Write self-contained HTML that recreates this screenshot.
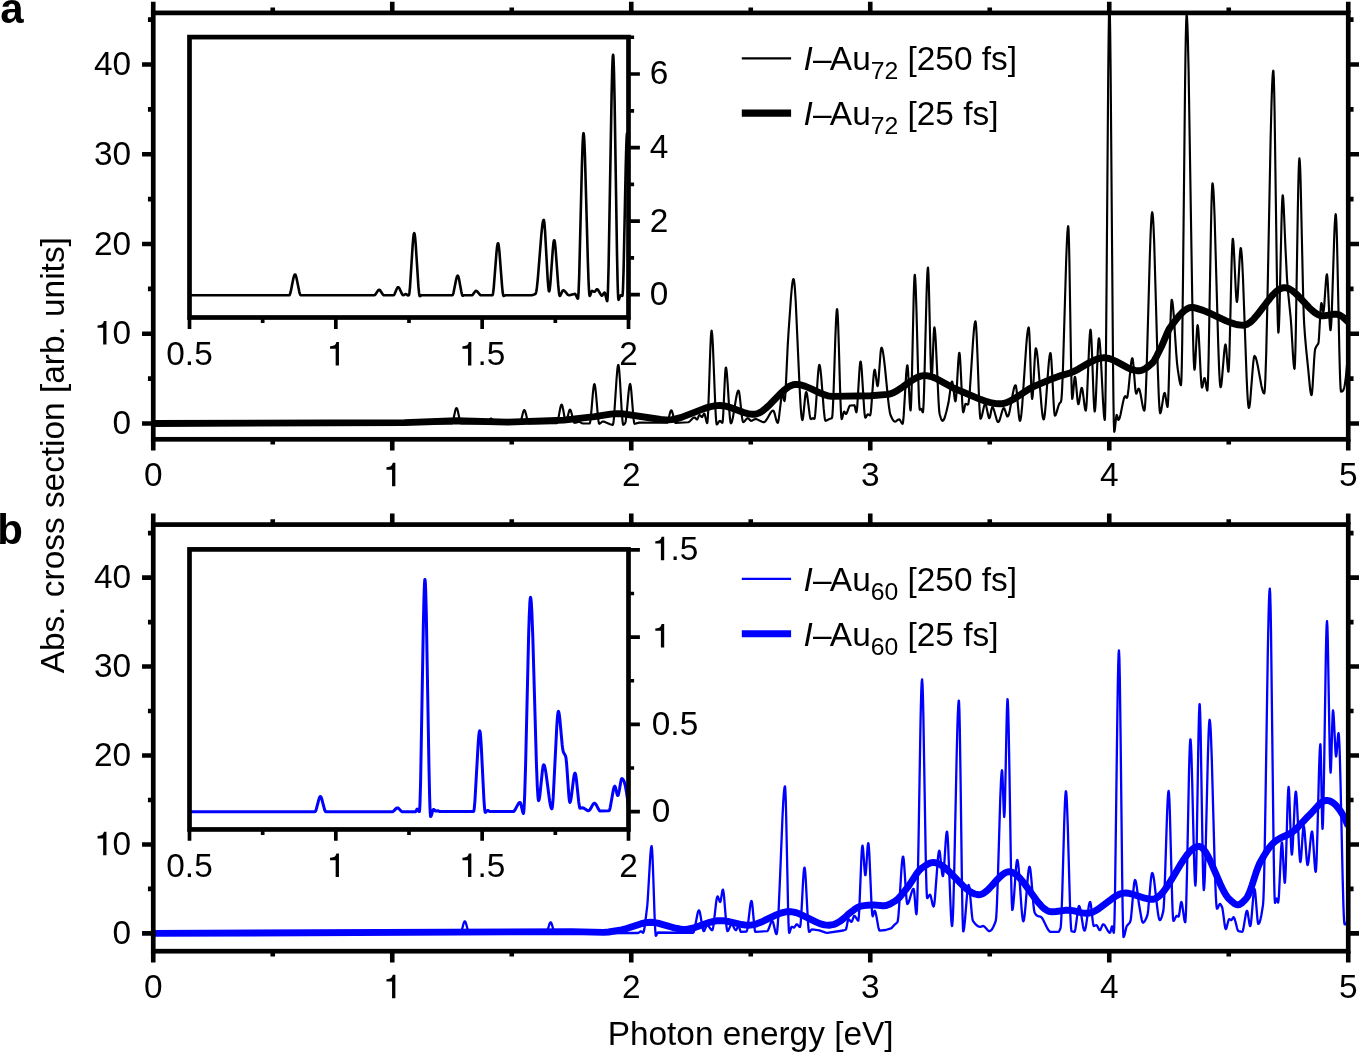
<!DOCTYPE html>
<html><head><meta charset="utf-8"><title>Absorption cross section</title>
<style>html,body{margin:0;padding:0;background:#fff}svg{display:block;will-change:transform}</style></head>
<body>
<svg width="1359" height="1053" viewBox="0 0 1359 1053" style="display:block;font-family:'Liberation Sans', sans-serif;font-size:33.4px" fill="#000">
<rect width="1359" height="1053" fill="#fff"/>
<defs>
<clipPath id="cpa"><rect x="153.25" y="12.9" width="1195.0" height="426.40000000000003"/></clipPath>
<clipPath id="cpb"><rect x="153.25" y="524.6" width="1195.0" height="426.6"/></clipPath>
<clipPath id="cia"><rect x="189.5" y="37.1" width="439.0" height="280.4"/></clipPath>
<clipPath id="cib"><rect x="189.5" y="549.4" width="439.0" height="280.05000000000007"/></clipPath>
</defs>
<g clip-path="url(#cpa)" fill="none" stroke="#000" stroke-linejoin="round">
<path d="M153.2,423.5 354.1,423.5 354.9,423.3 357.7,422.0 358.5,421.8 359.3,421.9 362.1,423.3 363.0,423.5 451.8,423.5 452.1,423.3 452.5,422.6 452.9,421.4 455.3,410.6 455.7,409.2 456.1,408.3 456.5,408.0 456.9,408.3 457.3,409.2 457.7,410.5 459.7,419.7 460.1,421.3 460.5,422.5 460.9,423.3 461.3,423.5 487.0,423.5 487.3,423.4 487.7,423.1 488.5,421.9 489.7,419.8 490.1,419.2 490.5,418.7 491.0,418.5 491.3,418.6 491.7,418.9 492.5,420.1 493.7,422.2 494.1,422.8 494.5,423.3 495.0,423.5 519.7,423.5 520.1,423.2 520.5,422.4 520.9,421.2 522.9,413.0 523.3,411.6 523.7,410.6 524.1,410.1 524.3,410.0 524.5,410.1 524.9,410.6 525.3,411.6 526.1,414.6 527.3,419.7 527.7,421.2 528.1,422.4 528.5,423.2 528.9,423.5 556.9,423.2 557.3,422.6 557.7,421.5 558.5,417.8 560.1,408.9 560.5,407.1 560.9,405.7 561.3,404.8 561.6,404.6 561.7,404.6 562.1,405.2 562.5,406.4 563.3,410.2 564.5,417.0 564.9,418.9 565.3,420.4 565.7,421.3 566.0,421.5 566.1,421.5 566.5,421.0 566.9,420.0 568.9,411.8 569.3,410.6 569.7,409.8 570.0,409.6 570.1,409.6 570.5,410.1 570.9,411.0 571.7,413.8 573.3,420.5 573.7,421.7 574.1,422.5 574.5,422.8 575.7,422.6 578.1,421.9 579.0,421.8 579.7,421.9 582.1,423.3 583.0,423.5 589.6,423.5 589.7,423.4 590.1,422.3 590.5,419.8 591.3,412.1 592.9,393.2 593.3,389.3 593.7,386.3 594.1,384.5 594.4,384.1 594.5,384.2 594.9,385.3 595.3,387.7 596.1,395.2 597.7,413.9 598.1,417.9 598.5,421.0 598.9,423.1 599.3,423.8 599.7,423.7 600.5,423.2 602.1,421.8 602.5,421.6 603.0,421.5 603.7,421.6 610.1,424.3 612.1,424.8 612.8,424.8 612.9,424.7 613.3,423.4 613.7,420.4 614.1,416.2 616.5,379.8 617.3,370.0 617.7,366.8 618.1,365.1 618.3,364.9 618.5,365.2 618.9,367.3 619.3,371.2 620.1,382.7 621.7,410.5 622.1,416.2 622.5,420.8 622.9,423.8 623.3,424.8 623.7,424.7 624.1,424.4 625.2,423.0 625.3,422.8 625.7,421.2 626.1,418.6 626.9,411.0 628.5,393.1 628.9,389.5 629.3,386.6 629.7,384.7 630.1,384.0 630.5,384.9 630.9,387.4 631.3,391.1 633.3,415.9 633.7,419.7 634.1,422.5 634.5,423.8 634.9,423.8 639.3,422.6 667.0,422.8 667.3,422.6 667.7,421.9 668.1,420.7 670.1,412.6 670.5,411.4 670.9,410.6 671.3,410.3 671.7,410.6 672.1,411.5 672.9,414.3 674.1,419.5 674.5,421.0 674.9,422.1 675.3,422.8 675.6,423.0 688.1,422.3 688.9,422.0 690.1,421.0 692.5,418.5 693.3,417.9 694.1,417.5 694.5,417.5 694.9,417.6 696.5,419.3 697.0,419.5 697.3,419.3 697.7,418.6 698.9,415.6 699.3,415.1 699.5,415.0 699.7,415.0 700.1,415.3 701.3,416.6 701.7,416.9 702.0,417.0 702.1,417.0 702.5,416.5 703.7,413.9 704.1,413.5 704.2,413.5 704.5,413.8 704.9,414.9 706.5,421.8 706.9,422.8 707.2,423.0 707.3,422.8 707.7,419.4 708.1,412.6 708.9,391.7 710.1,355.0 710.5,344.7 710.9,336.6 711.3,331.8 711.6,330.7 711.7,330.8 712.1,333.3 712.5,338.5 712.9,345.8 715.3,406.0 715.7,414.1 716.1,420.1 716.5,423.7 716.8,424.5 716.9,424.5 717.3,424.2 717.7,423.7 718.9,421.6 719.3,421.1 719.8,420.8 720.1,420.9 720.5,421.2 721.7,422.5 722.1,422.7 722.4,422.8 722.5,422.6 722.9,419.5 723.3,413.3 724.9,378.0 725.3,371.5 725.7,367.9 725.9,367.5 726.1,367.8 726.5,369.9 726.9,373.5 727.7,384.3 729.3,410.1 729.7,415.5 730.1,419.7 730.5,422.4 730.9,423.3 731.3,423.0 731.7,422.2 732.1,421.0 732.9,417.6 736.1,398.2 736.9,394.2 737.3,392.7 737.7,391.6 738.1,390.8 738.5,390.6 738.9,391.3 739.3,393.2 739.7,395.9 741.7,414.7 742.1,417.9 742.5,420.3 742.9,421.8 743.2,422.1 743.7,422.0 744.1,421.7 746.5,418.9 746.9,418.6 747.3,418.3 747.8,418.2 748.1,418.3 748.5,418.5 750.1,420.2 750.5,420.5 750.9,420.8 751.3,420.8 752.1,420.6 754.5,419.2 755.4,419.0 756.5,419.1 762.1,421.8 763.3,422.1 764.1,422.1 764.5,422.0 764.9,421.7 765.7,420.9 766.9,419.2 770.5,412.9 771.3,411.8 772.1,411.0 772.5,410.8 773.2,410.6 773.3,410.6 773.7,411.1 774.1,411.9 774.9,414.6 776.1,419.4 776.5,420.7 776.9,421.8 777.3,422.6 777.7,422.8 778.1,422.2 778.5,420.5 778.9,418.1 780.9,401.2 781.3,398.3 781.7,396.0 782.1,394.5 782.5,394.0 782.9,394.8 784.1,400.4 784.5,401.0 784.9,399.3 785.3,395.1 785.7,388.9 787.7,345.9 788.5,332.7 790.9,298.5 791.7,289.0 792.1,285.3 792.5,282.3 792.9,280.2 793.3,279.1 793.5,279.0 793.7,279.3 794.1,281.0 794.5,284.2 794.9,288.8 795.7,301.1 799.7,389.6 800.5,404.0 800.9,409.7 801.3,414.4 801.7,417.7 802.1,419.6 802.4,420.0 802.5,419.9 802.9,418.5 803.3,415.8 804.9,399.3 805.3,395.7 805.7,393.2 806.1,392.0 806.2,392.0 806.5,392.4 806.9,393.8 807.3,396.0 809.7,414.9 810.1,417.2 810.5,418.6 810.9,419.1 811.3,419.0 812.5,418.3 813.0,418.2 813.3,418.3 814.1,419.0 814.3,419.0 814.5,418.7 814.9,416.7 815.3,413.2 816.1,403.1 817.7,378.5 818.1,373.3 818.5,369.1 818.9,366.2 819.3,364.9 819.4,364.9 819.7,365.4 820.1,367.1 820.5,369.8 821.3,377.8 823.7,408.7 824.5,416.4 824.9,419.0 825.3,420.5 825.6,420.8 826.1,420.7 828.9,419.3 830.9,418.6 832.0,418.0 832.1,417.7 832.5,414.3 832.9,407.9 833.7,388.2 835.3,338.9 836.1,319.2 836.5,312.8 836.9,309.4 837.1,309.1 837.3,309.9 837.7,314.8 838.1,323.3 838.9,347.7 840.1,389.6 840.5,401.5 840.9,411.0 841.3,417.1 841.7,419.1 842.1,418.5 842.5,417.1 843.3,413.6 843.7,412.2 844.1,411.5 844.2,411.5 844.5,411.8 845.3,413.4 845.7,413.9 845.9,414.0 846.1,413.9 846.5,413.5 846.9,412.8 848.9,407.4 849.3,406.5 849.7,405.8 850.2,405.5 854.4,405.2 854.5,405.3 854.9,406.5 855.7,410.5 856.1,412.0 856.4,412.3 856.5,412.1 856.9,410.0 857.3,405.8 859.3,372.5 859.7,367.0 860.1,363.2 860.5,361.5 860.6,361.5 860.9,362.3 861.3,365.1 861.7,369.5 864.1,408.1 864.5,412.9 864.9,416.2 865.3,417.7 865.4,417.7 865.7,417.5 866.1,417.0 867.3,414.7 867.7,414.3 868.1,414.3 869.7,415.3 870.1,415.4 870.5,414.2 870.9,411.4 871.3,407.2 873.3,379.3 873.7,374.8 874.1,371.6 874.5,369.9 874.7,369.7 874.9,370.0 875.3,371.7 876.9,383.9 877.3,385.7 877.6,386.1 877.7,386.0 878.1,384.1 878.5,380.5 880.5,353.5 880.9,349.8 881.3,347.9 881.5,347.7 881.7,347.8 882.1,348.5 882.5,349.8 882.9,351.7 883.7,356.8 884.9,367.0 888.1,399.3 888.9,406.1 889.7,411.5 890.1,413.5 890.5,415.0 892.1,418.5 892.9,419.9 893.7,420.9 894.1,421.3 894.5,421.5 895.0,421.6 895.3,421.6 896.1,421.2 898.1,419.7 898.9,419.4 899.3,419.4 899.7,419.7 900.1,420.2 901.7,423.1 902.1,423.6 902.6,423.8 902.9,422.9 903.3,420.0 903.7,415.4 906.1,375.2 906.5,370.2 906.9,366.8 907.3,365.3 907.4,365.3 907.7,366.8 908.1,371.5 909.7,402.4 910.1,407.8 910.5,410.3 910.6,410.3 910.9,407.7 911.3,399.0 911.7,385.6 913.7,296.2 914.1,283.7 914.5,276.3 914.8,274.9 914.9,275.2 915.3,279.2 915.7,287.1 916.5,311.5 918.1,372.9 918.9,397.4 919.3,405.4 919.7,409.4 919.9,409.8 920.1,409.7 920.9,409.0 921.2,408.9 921.3,409.0 921.7,409.7 922.5,411.9 922.9,412.3 922.9,412.3 923.3,409.2 923.7,401.7 924.1,390.6 926.5,296.1 926.9,283.6 927.3,274.1 927.7,268.6 928.0,267.6 928.1,268.1 928.5,274.5 928.9,286.6 930.5,355.6 930.9,368.9 931.3,376.9 931.6,378.5 931.7,378.1 932.1,373.4 932.5,364.9 933.7,334.4 934.1,328.6 934.4,327.4 934.5,327.6 934.9,329.7 935.3,334.1 935.7,340.2 938.5,400.4 938.9,406.9 939.3,411.8 939.8,414.8 940.9,418.3 941.3,419.3 941.7,420.0 942.1,420.5 942.5,420.8 942.9,420.7 943.3,420.4 943.7,419.9 944.1,419.1 944.9,417.0 946.5,411.2 948.5,402.6 949.3,397.2 950.6,387.7 951.0,385.0 951.4,382.9 951.8,381.7 952.0,381.5 952.2,381.6 952.6,382.9 953.0,385.3 954.6,398.2 955.0,400.4 955.4,401.3 955.8,400.2 956.2,396.6 956.6,391.1 958.2,362.9 958.6,357.4 959.0,353.8 959.3,352.7 959.4,352.7 959.8,354.9 960.2,360.0 961.0,375.7 962.2,401.7 962.6,407.9 963.0,411.6 963.2,412.3 963.4,412.2 963.8,411.2 965.0,405.4 965.4,404.2 965.6,403.9 966.2,404.0 967.4,404.6 967.8,404.7 968.2,404.2 968.6,402.4 969.0,399.5 969.8,391.0 973.0,341.7 973.8,331.4 974.2,327.3 974.6,324.2 975.0,322.1 975.4,321.3 975.8,322.6 976.2,327.0 976.6,334.0 977.4,353.2 979.0,397.3 979.4,406.2 979.8,413.1 980.2,417.4 980.5,418.7 981.0,418.3 981.4,417.4 982.2,414.5 983.8,407.2 984.2,405.8 984.6,404.7 985.0,404.0 985.2,403.9 985.4,404.0 985.8,404.6 986.2,405.9 988.2,415.5 988.6,417.0 989.0,417.9 989.3,418.2 989.8,417.5 990.2,416.0 991.4,409.8 991.8,408.2 992.2,407.3 992.3,407.2 992.6,407.3 993.0,407.7 993.4,408.5 994.2,410.7 996.6,419.3 997.0,420.4 997.4,421.3 997.8,421.9 998.2,422.1 998.6,421.9 999.0,421.4 999.4,420.6 1000.2,418.2 1002.2,411.0 1002.6,409.9 1003.0,409.0 1003.4,408.3 1003.8,408.1 1004.2,408.3 1004.6,409.0 1005.4,411.3 1006.6,415.1 1007.0,416.0 1007.4,416.5 1007.5,416.5 1007.8,416.4 1008.2,415.9 1008.6,415.0 1009.0,413.8 1009.8,410.4 1013.0,392.7 1013.8,389.0 1014.2,387.5 1014.6,386.4 1015.0,385.6 1015.4,385.2 1015.5,385.2 1015.8,385.6 1016.2,387.4 1016.6,390.4 1018.6,412.9 1019.0,416.6 1019.4,419.3 1019.8,420.7 1019.9,420.8 1020.2,420.6 1020.6,419.3 1021.0,417.1 1021.4,413.9 1022.2,405.5 1026.2,346.3 1027.0,336.9 1027.4,333.2 1027.8,330.4 1028.2,328.4 1028.6,327.5 1028.7,327.4 1029.0,328.6 1029.4,334.4 1029.8,343.9 1031.0,380.1 1031.4,390.1 1031.8,396.8 1032.1,398.8 1032.2,398.8 1032.6,396.6 1033.0,391.9 1034.6,361.5 1035.0,354.9 1035.4,350.3 1035.8,348.3 1036.2,348.7 1036.6,350.2 1037.0,352.6 1037.8,359.5 1041.4,405.2 1042.2,413.0 1042.6,416.0 1043.0,418.0 1043.4,419.2 1043.6,419.4 1043.8,419.3 1044.2,418.1 1044.6,415.8 1045.0,412.5 1045.8,403.6 1048.2,369.9 1049.0,360.7 1049.4,357.3 1049.8,354.7 1050.2,353.3 1050.4,353.1 1050.6,353.3 1051.0,355.8 1051.4,360.5 1052.2,374.4 1053.4,398.8 1053.8,405.7 1054.2,411.2 1054.6,414.7 1054.9,415.7 1055.4,415.4 1055.8,414.7 1056.6,412.4 1058.2,406.6 1059.0,404.4 1059.4,403.6 1060.6,402.3 1061.0,401.5 1061.4,399.5 1061.8,394.7 1062.2,387.5 1063.0,367.3 1066.2,259.4 1067.0,239.5 1067.4,232.5 1067.8,228.0 1068.2,226.2 1068.6,230.2 1069.0,242.7 1069.4,261.6 1071.0,359.6 1071.4,379.4 1071.8,393.1 1072.2,398.8 1072.6,397.7 1073.0,394.5 1074.2,380.8 1074.6,377.7 1074.9,376.8 1075.0,376.8 1075.4,378.2 1075.8,381.2 1077.4,399.1 1077.8,402.4 1078.2,404.1 1078.3,404.2 1078.6,403.9 1079.0,402.6 1079.4,400.4 1080.6,392.1 1081.0,389.8 1081.4,388.2 1081.7,387.8 1081.8,387.8 1082.2,388.7 1082.6,390.5 1083.4,396.4 1084.6,406.1 1085.0,408.6 1085.4,410.2 1085.7,410.6 1085.8,410.6 1086.2,408.5 1086.6,403.6 1087.0,396.7 1089.0,349.2 1089.4,341.1 1089.8,334.8 1090.2,330.8 1090.5,329.7 1090.6,329.8 1091.0,332.5 1091.4,338.7 1092.2,358.2 1093.4,392.0 1093.8,401.2 1094.2,407.9 1094.6,411.3 1094.7,411.5 1095.0,410.6 1095.4,406.5 1095.8,399.7 1097.8,351.3 1098.2,344.1 1098.6,339.5 1098.9,338.2 1099.0,338.2 1099.4,339.7 1099.8,343.0 1100.2,347.9 1101.0,361.3 1103.0,401.2 1103.8,413.3 1104.2,417.3 1104.6,419.5 1104.8,419.9 1105.0,418.2 1105.4,402.3 1105.8,372.1 1106.6,282.3 1108.2,76.5 1108.6,38.8 1109.0,13.2 1109.4,3.0 1109.8,10.3 1110.2,32.6 1110.6,67.0 1113.0,361.8 1113.4,397.8 1113.8,422.1 1114.2,431.8 1114.6,430.8 1115.0,428.0 1115.8,420.2 1116.2,416.9 1116.6,415.0 1116.7,414.9 1117.0,415.2 1117.4,416.6 1117.8,418.4 1118.2,419.7 1118.4,419.9 1118.6,419.9 1119.0,419.4 1119.4,418.6 1119.8,417.4 1120.6,414.2 1123.0,402.2 1123.8,398.9 1124.2,397.7 1124.6,396.8 1125.0,396.3 1125.2,396.2 1125.4,396.3 1125.8,396.7 1126.2,397.3 1126.6,397.8 1126.8,397.9 1127.0,397.8 1127.4,396.7 1127.8,394.6 1128.6,388.2 1130.6,367.5 1131.0,364.0 1131.4,361.2 1131.8,359.2 1132.2,358.3 1132.3,358.2 1132.6,358.7 1133.0,361.0 1133.4,364.8 1135.0,385.4 1135.4,389.6 1135.8,392.5 1136.2,393.7 1136.6,393.4 1137.0,392.5 1137.8,390.2 1138.2,389.2 1138.6,388.6 1138.7,388.6 1139.0,388.8 1139.4,389.5 1139.8,390.7 1140.6,394.3 1142.6,405.6 1143.0,407.5 1143.4,409.0 1143.8,410.1 1144.2,410.6 1144.3,410.6 1144.6,409.9 1145.0,406.5 1145.4,400.6 1145.8,392.4 1146.6,370.7 1149.8,256.8 1150.6,233.9 1151.0,225.0 1151.4,218.2 1151.8,213.9 1152.2,212.2 1152.6,213.5 1153.0,217.5 1153.4,223.9 1154.2,242.9 1157.8,369.0 1158.6,391.7 1159.0,400.5 1159.4,407.2 1159.8,411.6 1160.2,413.2 1160.6,412.8 1161.0,411.5 1161.4,409.6 1163.4,396.7 1163.8,394.7 1164.2,393.3 1164.6,392.8 1165.0,393.5 1165.4,395.3 1166.6,403.5 1167.0,405.7 1167.4,406.8 1167.5,406.9 1167.8,405.6 1168.2,399.4 1168.6,389.4 1170.6,318.7 1171.0,308.2 1171.4,301.6 1171.7,299.8 1171.8,299.8 1172.2,300.8 1172.6,303.2 1173.0,306.6 1173.8,316.1 1176.2,352.8 1177.0,362.8 1177.8,369.5 1179.4,380.1 1179.8,382.1 1180.2,383.7 1180.6,384.8 1181.0,385.2 1181.4,380.3 1181.8,365.7 1182.2,342.9 1183.0,279.1 1185.0,90.0 1185.4,60.0 1185.8,36.4 1186.2,20.8 1186.6,14.9 1187.0,17.3 1187.4,24.6 1187.8,36.3 1188.6,70.6 1192.2,295.9 1193.0,335.4 1193.4,350.3 1193.8,361.4 1194.2,368.0 1194.5,369.7 1194.6,369.6 1195.0,366.8 1195.4,361.0 1196.6,336.5 1197.0,329.8 1197.4,325.8 1197.6,325.2 1197.8,325.5 1198.2,328.2 1198.6,333.1 1199.4,347.6 1200.6,372.3 1201.0,379.1 1201.4,384.2 1201.8,387.2 1202.0,387.6 1202.2,387.5 1202.6,386.3 1203.8,379.9 1204.2,378.4 1204.5,378.0 1204.6,378.0 1205.0,379.0 1205.4,380.9 1206.6,388.5 1207.0,390.1 1207.3,390.5 1207.4,390.3 1207.8,385.5 1208.2,374.6 1208.6,358.9 1211.0,225.9 1211.4,207.9 1211.8,194.0 1212.2,185.5 1212.5,183.3 1212.6,183.4 1213.0,185.4 1213.4,190.0 1213.8,197.0 1214.6,216.8 1218.2,343.6 1219.0,366.1 1219.4,374.8 1219.8,381.4 1220.2,385.6 1220.6,387.2 1221.0,386.5 1221.4,384.3 1221.8,380.9 1224.2,352.0 1224.6,348.3 1225.0,345.7 1225.4,344.5 1225.5,344.4 1225.8,345.1 1226.2,348.2 1227.4,364.0 1227.8,368.5 1228.2,371.3 1228.4,371.7 1228.6,371.0 1229.0,365.3 1229.4,354.7 1230.2,323.8 1231.4,271.2 1231.8,256.7 1232.2,245.9 1232.6,239.7 1232.8,238.8 1233.0,239.2 1233.4,242.3 1233.8,248.0 1235.8,290.5 1236.2,296.9 1236.6,300.9 1236.9,302.0 1237.0,301.9 1237.4,299.6 1237.8,294.6 1239.8,255.9 1240.2,250.8 1240.6,248.2 1240.7,248.1 1241.0,248.7 1241.4,251.3 1241.8,255.8 1242.2,262.0 1243.0,278.5 1246.6,377.0 1247.4,393.7 1247.8,400.0 1248.2,404.6 1248.6,407.3 1248.9,408.0 1249.0,408.0 1249.4,406.9 1249.8,404.5 1250.2,401.0 1253.0,365.3 1253.4,361.3 1253.8,358.3 1254.2,356.5 1254.5,356.0 1255.0,356.3 1255.4,356.9 1255.8,357.8 1256.6,360.5 1257.8,366.0 1261.4,385.8 1262.2,389.2 1263.0,391.8 1263.4,392.7 1263.8,393.2 1264.2,393.4 1264.6,391.7 1265.0,386.5 1265.4,378.3 1266.2,353.9 1267.4,302.2 1270.6,139.5 1271.4,107.4 1271.8,94.4 1272.2,83.9 1272.6,76.3 1273.0,71.8 1273.3,70.7 1273.4,70.9 1273.8,77.5 1274.2,91.9 1274.6,112.5 1277.0,283.7 1277.4,305.9 1277.8,322.3 1278.2,331.3 1278.4,332.6 1278.6,331.8 1279.0,325.5 1279.4,314.1 1281.4,225.7 1281.8,211.1 1282.2,200.6 1282.6,195.6 1282.7,195.3 1283.0,196.4 1283.4,201.2 1283.8,208.7 1285.4,246.8 1287.0,278.7 1287.8,289.4 1290.7,318.0 1291.4,327.8 1293.0,355.4 1293.4,361.0 1293.8,365.4 1294.2,368.1 1294.5,368.8 1294.6,368.6 1295.0,362.8 1295.4,350.4 1295.8,332.5 1297.8,211.3 1298.2,190.3 1298.6,173.5 1299.0,162.4 1299.4,158.3 1299.8,161.1 1300.2,168.9 1300.6,181.0 1303.0,289.0 1303.4,304.3 1303.8,316.4 1304.2,324.5 1305.0,336.1 1306.2,349.6 1308.2,369.2 1309.8,386.2 1310.2,389.6 1310.6,392.3 1311.0,394.2 1311.4,395.1 1311.5,395.1 1311.8,394.3 1312.2,391.2 1312.6,386.1 1314.2,359.0 1314.6,353.6 1315.0,350.0 1315.2,349.0 1315.8,347.5 1317.0,345.4 1317.8,344.4 1318.3,343.5 1318.6,341.9 1319.0,337.3 1320.6,309.4 1321.0,304.8 1321.4,303.0 1321.8,304.0 1322.6,309.2 1323.0,311.4 1323.3,312.0 1323.4,311.9 1323.8,310.0 1324.2,306.1 1325.8,282.7 1326.2,278.0 1326.6,275.1 1326.9,274.3 1327.0,274.4 1327.4,277.2 1327.8,283.0 1329.4,317.7 1329.8,324.6 1330.2,329.1 1330.5,330.2 1330.6,330.1 1331.0,327.2 1331.4,321.0 1331.8,312.1 1334.2,237.6 1334.6,227.6 1335.0,220.0 1335.4,215.3 1335.7,214.2 1335.8,214.4 1336.2,218.6 1336.6,227.8 1337.0,240.9 1339.4,352.8 1339.8,368.4 1340.2,380.7 1340.6,388.7 1341.0,391.6 1341.8,391.5 1342.2,391.4 1342.6,391.1 1343.0,390.6 1343.4,389.9 1343.8,388.9 1344.2,387.5 1344.6,385.8 1345.4,381.0 1346.2,374.0 1347.0,364.6 1347.8,352.3 1348.2,345.0" stroke-width="2.15"/>
<path d="M153.2,423.5 404.4,422.6 456.5,420.8 507.5,422.1 563.6,420.1 594.6,416.6 610.6,414.1 616.6,413.6 621.6,413.7 660.7,419.5 665.7,419.9 668.7,419.9 671.7,419.6 675.7,418.9 680.7,417.6 704.7,408.4 709.7,406.9 713.7,406.0 716.7,405.6 719.8,405.5 722.7,405.7 725.7,406.2 729.7,407.3 743.7,412.5 747.7,413.6 750.7,414.1 752.7,414.3 754.7,414.2 755.7,414.1 756.7,413.9 758.7,413.1 760.7,412.1 762.7,410.8 765.7,408.4 769.7,404.7 780.7,393.3 783.8,390.5 786.8,388.1 788.8,386.7 790.8,385.7 792.8,384.9 793.8,384.6 794.8,384.5 796.8,384.4 798.8,384.6 801.8,385.2 804.8,386.1 810.8,388.6 820.8,393.3 824.8,394.9 827.8,395.8 829.8,396.1 831.8,396.4 870.8,395.8 887.8,394.4 889.8,394.0 891.8,393.4 893.8,392.5 896.8,390.9 902.8,386.9 910.9,381.1 914.9,378.6 917.9,377.1 919.9,376.4 921.9,375.9 923.9,375.6 925.9,375.6 927.9,375.9 929.9,376.3 932.9,377.2 936.9,378.9 953.9,388.3 980.9,399.6 986.9,401.7 991.9,403.0 995.9,403.6 998.9,403.8 1000.9,403.8 1002.9,403.5 1004.9,403.1 1006.9,402.4 1009.9,401.1 1013.9,399.0 1028.9,389.1 1032.9,386.9 1053.0,378.4 1061.0,375.6 1070.0,373.0 1073.0,371.8 1078.0,369.3 1090.0,362.3 1094.0,360.3 1097.0,359.1 1099.0,358.5 1101.0,358.1 1103.0,357.8 1105.0,357.8 1107.0,358.1 1109.0,358.5 1112.0,359.6 1116.0,361.4 1127.0,367.4 1130.0,368.8 1133.0,369.9 1135.0,370.4 1137.0,370.7 1139.0,370.8 1140.0,370.7 1141.0,370.5 1142.0,370.2 1144.0,369.3 1146.0,368.1 1149.0,365.9 1152.2,363.2 1153.0,362.3 1154.0,361.0 1155.0,359.4 1157.0,355.6 1162.1,345.2 1167.1,333.3 1168.1,331.1 1169.1,329.2 1170.1,327.6 1176.1,319.5 1179.1,315.9 1181.1,313.7 1183.1,311.7 1185.1,310.1 1187.1,308.8 1188.1,308.3 1189.1,307.9 1190.1,307.6 1191.1,307.5 1192.1,307.4 1193.1,307.5 1195.1,307.9 1203.1,310.4 1210.1,313.3 1226.1,320.9 1231.1,322.9 1235.1,324.1 1238.1,324.8 1241.1,325.1 1243.1,325.2 1244.1,325.1 1245.1,324.9 1246.1,324.6 1247.1,324.2 1248.1,323.6 1250.1,322.3 1252.1,320.6 1254.1,318.6 1257.1,315.1 1270.1,298.1 1273.1,294.6 1275.1,292.6 1277.1,290.8 1279.1,289.4 1280.1,288.9 1281.1,288.4 1282.1,288.0 1283.1,287.8 1284.5,287.7 1286.2,287.9 1287.2,288.1 1288.2,288.4 1290.2,289.4 1292.2,290.6 1294.2,292.2 1297.2,294.9 1309.2,307.7 1312.2,310.5 1314.2,312.2 1316.2,313.6 1318.2,314.7 1319.2,315.1 1320.2,315.4 1321.2,315.7 1323.2,315.8 1325.2,315.6 1333.2,314.3 1335.7,314.1 1337.2,314.3 1338.2,314.5 1339.2,314.9 1340.2,315.4 1342.2,316.6 1344.2,318.2 1348.2,322.0" stroke-width="6.9"/>
</g>
<g stroke="#000" fill="none">
<rect x="153.25" y="12.9" width="1195.0" height="426.40000000000003" stroke-width="4.7"/>
<path d="M153.25,12.9v-11.2M153.25,439.3v11.2M272.75,12.9v-5.3M272.75,439.3v5.3M392.25,12.9v-11.2M392.25,439.3v11.2M511.75,12.9v-5.3M511.75,439.3v5.3M631.25,12.9v-11.2M631.25,439.3v11.2M750.75,12.9v-5.3M750.75,439.3v5.3M870.25,12.9v-11.2M870.25,439.3v11.2M989.75,12.9v-5.3M989.75,439.3v5.3M1109.25,12.9v-11.2M1109.25,439.3v11.2M1228.75,12.9v-5.3M1228.75,439.3v5.3M1348.25,12.9v-11.2M1348.25,439.3v11.2M153.25,423.50h-11.2M1348.25,423.50h11.2M153.25,378.62h-5.3M1348.25,378.62h5.3M153.25,333.75h-11.2M1348.25,333.75h11.2M153.25,288.88h-5.3M1348.25,288.88h5.3M153.25,244.00h-11.2M1348.25,244.00h11.2M153.25,199.12h-5.3M1348.25,199.12h5.3M153.25,154.25h-11.2M1348.25,154.25h11.2M153.25,109.38h-5.3M1348.25,109.38h5.3M153.25,64.50h-11.2M1348.25,64.50h11.2M153.25,19.62h-5.3M1348.25,19.62h5.3" stroke-width="4.6"/>
</g>
<text x="131.2" y="434.2" text-anchor="end">0</text>
<path transform="translate(94.06,344.45)" d="M12.4,0V-23.45H9.8C9.5,-21.5 8.6,-20.3 7.2,-19.8C6.2,-19.4 5,-19.15 3.5,-19.05V-16.65H9.1V0Z"/>
<text x="112.6" y="344.4">0</text>
<text x="131.2" y="254.7" text-anchor="end">20</text>
<text x="131.2" y="164.9" text-anchor="end">30</text>
<text x="131.2" y="75.2" text-anchor="end">40</text>
<text x="153.2" y="486.3" text-anchor="middle">0</text>
<path transform="translate(382.96,486.30)" d="M12.4,0V-23.45H9.8C9.5,-21.5 8.6,-20.3 7.2,-19.8C6.2,-19.4 5,-19.15 3.5,-19.05V-16.65H9.1V0Z"/>
<text x="631.2" y="486.3" text-anchor="middle">2</text>
<text x="870.2" y="486.3" text-anchor="middle">3</text>
<text x="1109.2" y="486.3" text-anchor="middle">4</text>
<text x="1348.2" y="486.3" text-anchor="middle">5</text>
<rect x="189.5" y="37.1" width="439.0" height="280.4" fill="#fff"/>
<g clip-path="url(#cia)" fill="none" stroke="#000" stroke-linejoin="round">
<path d="M189.5,295.2 289.2,295.2 289.4,295.2 289.7,294.8 290.0,294.2 290.6,292.2 293.3,278.8 293.9,276.4 294.2,275.5 294.5,274.9 294.8,274.5 295.1,274.5 295.4,274.7 295.7,275.3 296.3,277.1 299.3,291.8 299.9,293.9 300.2,294.6 300.5,295.1 300.8,295.2 374.3,295.2 374.6,295.1 375.2,294.7 377.9,290.6 378.5,290.0 378.8,289.8 379.1,289.8 379.4,289.8 380.0,290.2 382.7,294.3 383.3,294.9 383.6,295.1 393.5,295.2 393.8,295.1 394.1,294.8 394.7,293.8 396.8,288.8 397.4,287.8 397.7,287.4 398.0,287.2 398.3,287.2 398.6,287.3 398.9,287.6 399.5,288.5 401.9,293.9 402.5,294.8 402.8,295.1 403.2,295.2 403.7,295.1 405.5,294.1 405.9,294.1 406.1,294.1 406.7,294.5 407.6,295.3 408.0,295.4 408.8,295.2 409.1,294.6 409.4,292.9 410.0,287.1 412.7,244.7 413.3,237.6 413.6,235.2 413.9,233.6 414.2,233.1 414.5,233.6 414.8,235.1 415.1,237.4 415.7,244.2 418.4,286.4 419.0,292.7 419.3,294.8 419.6,296.0 419.8,296.2 420.2,296.1 421.1,295.4 421.5,295.2 452.3,295.2 452.6,295.1 452.9,294.6 453.5,292.8 456.2,279.3 456.8,277.1 457.1,276.3 457.4,275.8 457.7,275.6 458.0,275.9 458.3,276.4 458.9,278.5 461.3,291.6 461.9,294.1 462.2,295.0 462.5,295.5 462.8,295.8 463.1,295.7 463.7,295.3 471.8,295.2 472.1,295.2 472.7,294.7 475.1,291.4 475.7,290.9 476.0,290.9 476.3,290.9 476.9,291.2 479.9,294.7 480.5,295.1 481.1,295.2 492.4,295.2 492.5,295.2 492.8,294.5 493.1,293.0 493.7,288.1 496.4,253.5 497.0,247.5 497.3,245.4 497.6,243.9 497.9,243.2 498.0,243.2 498.2,243.3 498.5,244.3 498.8,246.1 499.4,251.4 502.1,286.6 502.7,292.3 503.0,294.3 503.3,295.5 503.6,295.9 504.2,295.8 505.1,295.3 531.8,295.2 534.2,294.5 535.5,293.9 535.7,293.6 536.0,292.8 536.3,291.5 536.9,287.6 537.8,279.0 541.4,233.8 542.3,225.5 542.9,221.8 543.2,220.6 543.5,220.0 543.7,219.8 543.8,219.9 544.1,221.0 544.4,223.1 545.0,230.3 547.7,279.5 548.3,287.2 548.6,289.7 548.9,291.2 549.1,291.4 549.2,291.4 549.5,290.6 549.8,288.8 550.4,283.1 552.8,249.6 553.4,243.5 553.7,241.5 554.0,240.4 554.2,240.2 554.3,240.2 554.6,241.0 554.9,242.5 555.5,247.8 558.2,284.9 558.8,291.2 559.1,293.6 559.4,295.1 559.7,295.9 559.8,295.9 560.0,295.9 560.3,295.6 560.9,294.5 562.4,291.0 562.7,290.6 563.0,290.3 563.3,290.3 563.9,290.5 564.8,291.2 567.5,294.4 568.1,294.9 568.7,295.2 570.2,295.1 574.4,294.0 575.0,293.9 575.3,294.1 575.6,294.5 577.1,297.8 577.4,298.3 577.7,298.6 577.9,298.6 578.0,298.5 578.3,296.2 578.6,291.5 579.2,276.0 581.9,166.0 582.5,147.1 582.8,140.3 583.1,135.6 583.4,133.3 583.5,133.2 583.7,133.6 584.0,136.2 584.3,140.6 584.9,154.3 587.9,262.8 588.5,280.0 588.8,286.7 589.1,291.7 589.4,294.8 589.7,295.9 590.0,295.7 590.3,295.1 591.5,291.5 591.8,291.0 592.1,290.9 594.2,291.7 594.5,291.8 594.8,291.7 595.4,291.0 596.3,289.7 596.6,289.4 597.0,289.2 597.5,289.4 598.1,290.0 600.8,294.7 601.4,295.4 601.7,295.6 602.0,295.6 602.3,295.5 602.6,295.2 603.8,293.2 604.1,292.8 604.4,292.6 604.6,292.6 604.7,292.6 605.0,293.1 605.3,294.1 606.5,299.5 606.8,300.5 607.1,301.0 607.2,301.1 607.4,300.2 607.7,296.0 608.0,288.7 608.6,266.0 611.6,94.4 612.2,70.2 612.5,61.9 612.8,56.6 613.1,54.8 613.4,56.9 613.7,63.2 614.0,72.9 614.6,101.0 617.0,253.6 617.6,281.7 617.9,291.4 618.2,297.7 618.5,299.9 618.8,299.6 619.1,299.0 620.0,296.4 620.3,295.7 620.6,295.3 620.9,295.3 622.1,295.9 622.4,295.9 622.7,294.0 623.0,288.7 623.6,269.5 625.7,168.0 626.3,145.8 626.6,138.4 626.9,134.1 627.1,133.2 627.2,133.3 627.5,134.3 627.8,136.4 628.1,139.8 628.7,150.0 629.3,165.1 630.2,197.0 631.4,257.3 632.0,295.2" stroke-width="2.6"/>
</g>
<g stroke="#000" fill="none">
<rect x="189.5" y="37.1" width="439.0" height="280.4" stroke-width="4.7"/>
<path d="M189.50,317.5v11.4M262.67,317.5v5.6M335.83,317.5v11.4M409.00,317.5v5.6M482.17,317.5v11.4M555.33,317.5v5.6M628.50,317.5v11.4M628.5,294.70h11.4M628.5,221.14h11.4M628.5,147.58h11.4M628.5,74.02h11.4M628.5,257.92h5.6M628.5,184.36h5.6M628.5,110.80h5.6M628.5,37.24h5.6" stroke-width="3.7"/>
</g>
<text x="649.8" y="305.1">0</text>
<text x="649.8" y="231.5">2</text>
<text x="649.8" y="158.0">4</text>
<text x="649.8" y="84.4">6</text>
<text x="189.5" y="365.4" text-anchor="middle">0.5</text>
<path transform="translate(326.55,365.40)" d="M12.4,0V-23.45H9.8C9.5,-21.5 8.6,-20.3 7.2,-19.8C6.2,-19.4 5,-19.15 3.5,-19.05V-16.65H9.1V0Z"/>
<path transform="translate(458.95,365.40)" d="M12.4,0V-23.45H9.8C9.5,-21.5 8.6,-20.3 7.2,-19.8C6.2,-19.4 5,-19.15 3.5,-19.05V-16.65H9.1V0Z"/>
<text x="477.5" y="365.4">.5</text>
<text x="628.5" y="365.4" text-anchor="middle">2</text>
<g clip-path="url(#cpb)" fill="none" stroke="#0000ff" stroke-linejoin="round">
<path d="M153.2,933.4 460.3,933.4 460.5,933.3 460.9,932.8 461.3,931.9 462.1,929.2 463.3,924.5 463.7,923.1 464.1,922.1 464.5,921.5 464.8,921.3 464.9,921.3 465.3,921.7 465.7,922.5 466.5,925.1 468.1,931.2 468.5,932.4 468.9,933.1 469.3,933.4 506.1,933.4 506.5,933.3 507.3,932.9 508.9,931.7 509.3,931.6 509.7,931.5 510.1,931.6 510.9,931.9 512.5,933.1 512.9,933.3 513.7,933.4 546.1,933.4 546.5,933.0 546.9,932.3 547.7,930.0 549.3,924.5 549.7,923.4 550.1,922.7 550.5,922.3 550.6,922.3 550.9,922.4 551.3,923.0 551.7,923.9 553.7,930.6 554.1,931.8 554.5,932.7 554.9,933.3 555.3,933.4 638.1,933.0 638.5,932.9 640.5,931.5 640.9,931.3 641.3,931.3 641.7,931.6 642.5,932.5 643.0,932.8 643.3,932.6 643.7,931.6 644.1,930.1 644.9,925.4 647.3,905.4 647.7,900.4 650.1,859.0 650.5,853.4 650.9,849.2 651.3,846.7 651.6,846.1 651.7,846.3 652.1,849.6 652.5,856.5 653.3,877.5 654.5,913.8 654.9,923.8 655.3,931.2 655.7,935.3 655.9,935.8 656.1,935.7 656.5,935.1 657.3,933.3 657.7,932.7 658.0,932.5 693.0,932.8 693.3,932.6 693.7,931.9 694.1,930.8 694.9,927.4 697.3,914.7 697.7,913.0 698.1,911.7 698.5,910.8 698.9,910.4 699.0,910.4 699.3,910.7 699.7,911.7 700.1,913.2 702.5,927.5 702.9,929.3 703.3,930.5 703.7,931.1 703.8,931.1 704.1,931.0 704.5,930.4 706.1,926.6 706.5,925.8 706.9,925.3 707.3,925.2 707.7,925.4 708.1,925.6 708.9,926.6 710.9,929.4 711.3,929.8 711.7,930.1 712.2,930.2 712.5,929.9 712.9,928.6 713.3,926.4 714.1,920.4 716.1,902.6 716.5,899.9 716.9,897.9 717.3,896.7 717.6,896.4 717.7,896.4 718.1,897.0 719.3,900.5 719.7,901.5 720.1,902.0 720.2,902.0 720.5,901.5 720.9,899.8 722.1,892.1 722.5,890.3 722.9,889.6 723.3,890.6 723.7,893.1 724.1,896.8 726.1,922.2 726.5,926.3 726.9,929.3 727.3,930.9 727.5,931.1 727.7,931.0 728.1,930.7 728.5,930.1 730.5,925.6 730.9,924.9 731.3,924.5 731.7,924.3 732.1,924.5 732.5,924.9 733.3,926.3 734.5,928.7 734.9,929.4 735.3,929.9 735.7,930.2 735.9,930.2 736.1,930.1 736.5,929.6 737.7,926.9 738.1,926.2 738.5,926.0 738.9,926.5 739.3,927.5 740.1,930.2 740.5,931.3 740.9,931.9 746.5,931.5 746.9,930.8 747.3,929.2 747.7,926.8 750.1,906.6 750.5,904.0 750.9,902.1 751.3,901.1 751.5,901.0 751.7,901.3 752.1,903.1 752.5,906.3 754.1,924.2 754.5,927.9 754.9,930.6 755.3,931.9 767.3,931.1 767.7,930.7 768.1,930.1 768.9,928.3 770.9,922.7 771.3,921.8 771.7,921.2 772.1,920.9 772.3,920.9 772.5,921.0 772.9,921.7 773.3,922.9 775.3,931.6 775.7,932.9 776.1,933.8 776.5,934.1 776.9,933.0 777.3,930.2 777.7,925.7 778.5,912.9 780.1,876.3 782.5,816.6 783.3,801.3 783.7,795.3 784.1,790.7 784.5,787.7 784.9,786.4 785.0,786.4 785.3,789.0 785.7,798.1 786.1,812.5 788.1,909.1 788.5,922.8 788.9,931.1 789.2,932.8 789.3,932.8 789.7,932.2 790.9,928.4 791.3,927.3 791.7,926.8 792.1,926.8 793.7,927.5 794.1,927.5 794.5,927.2 796.1,924.8 796.5,924.4 796.9,924.3 797.3,924.5 798.1,925.3 798.9,926.3 799.3,926.7 799.7,926.9 800.0,927.0 800.1,926.9 800.5,924.7 800.9,920.4 801.7,907.4 802.9,884.2 803.3,877.5 803.7,872.2 804.1,868.7 804.5,867.6 804.9,869.1 805.3,872.9 805.7,878.5 807.7,917.0 808.1,923.5 808.5,928.4 808.9,931.3 809.2,931.9 809.7,931.7 811.3,929.8 811.7,929.5 812.1,929.4 819.3,930.3 825.7,932.6 827.3,932.8 843.3,930.5 845.3,929.7 845.9,929.4 846.1,929.0 846.5,927.6 847.7,921.2 848.1,919.7 848.5,919.2 848.9,919.3 849.3,919.7 850.5,921.2 850.9,921.6 851.3,921.8 851.5,921.8 851.7,921.7 852.1,921.1 853.7,916.6 854.1,915.9 854.4,915.8 854.5,915.8 854.9,916.0 855.3,916.5 857.3,919.9 857.7,920.3 858.1,920.6 858.3,920.6 858.5,919.9 858.9,915.9 859.3,909.1 861.3,859.6 861.7,852.1 862.1,847.2 862.5,845.6 862.9,847.4 863.3,851.6 864.5,868.9 864.9,873.2 865.3,875.2 865.4,875.2 865.7,874.0 866.1,870.0 867.3,851.3 867.7,846.2 868.1,843.4 868.3,843.1 868.5,843.7 868.9,847.3 869.3,853.4 871.3,899.6 871.7,907.3 872.1,913.0 872.5,915.9 872.7,916.2 872.9,916.0 873.3,914.9 874.1,911.8 874.5,910.9 874.7,910.8 874.9,910.9 875.3,911.7 875.7,912.9 876.5,916.7 878.1,925.8 878.5,927.7 878.9,929.2 879.3,930.2 879.8,930.7 885.7,930.0 890.9,928.4 891.7,927.9 895.0,924.3 896.5,923.1 897.5,922.0 897.7,921.3 898.1,918.8 898.5,915.0 899.3,904.1 901.3,871.3 901.7,865.9 902.1,861.5 902.5,858.3 902.9,856.7 903.1,856.6 903.3,857.0 903.7,859.5 904.1,863.6 906.1,894.2 906.5,899.1 906.9,902.5 907.3,904.0 907.7,903.9 908.1,903.4 908.5,902.6 909.3,900.5 911.7,892.1 912.5,890.0 912.9,889.3 913.3,888.9 913.6,888.8 913.7,889.0 914.1,891.2 914.5,895.1 915.7,909.9 916.1,913.2 916.5,914.2 916.5,914.2 916.9,910.0 917.3,899.7 917.7,884.5 918.5,843.0 920.5,723.5 920.9,705.1 921.3,690.9 921.7,682.0 922.1,679.3 922.1,679.4 922.5,684.0 922.9,695.4 923.3,712.1 925.7,854.9 926.1,874.0 926.5,888.3 926.9,896.5 927.2,898.1 927.3,898.1 927.7,897.8 929.3,895.2 929.7,894.8 930.0,894.7 930.1,894.8 930.5,895.4 930.9,896.7 932.5,904.1 932.9,905.5 933.3,906.3 933.6,906.5 933.7,906.4 934.1,905.1 934.5,902.4 934.9,898.6 937.7,860.9 938.1,856.6 938.5,853.4 938.9,851.3 939.3,850.7 939.7,851.8 940.1,854.3 941.7,870.0 942.1,873.2 942.5,875.4 942.9,876.1 942.9,876.1 943.3,874.6 943.7,871.2 944.5,860.3 945.7,841.5 946.1,836.5 946.5,833.1 946.9,831.6 947.0,831.6 947.3,832.9 947.7,837.3 948.1,844.3 950.6,906.8 951.0,915.3 951.4,921.6 951.8,925.3 952.0,926.0 952.2,925.7 952.6,921.8 953.0,914.0 953.4,902.9 954.2,872.6 956.6,758.3 957.4,726.9 957.8,715.0 958.2,706.4 958.6,701.5 958.8,700.6 959.0,701.4 959.4,710.6 959.8,728.3 960.6,781.2 961.8,872.8 962.2,898.3 962.6,917.8 963.0,929.3 963.2,931.4 963.4,931.3 963.8,930.0 964.2,927.6 965.0,919.9 967.0,895.3 967.4,891.3 967.8,888.1 968.2,885.9 968.6,885.0 969.0,885.6 969.4,887.7 969.8,891.0 971.8,913.6 972.2,917.2 972.6,919.8 973.0,921.0 975.0,923.6 976.6,925.2 977.8,926.0 979.0,926.6 980.2,926.8 981.0,926.7 982.6,926.1 983.0,926.0 983.4,926.0 983.8,926.2 984.6,926.8 987.8,930.3 988.6,930.9 989.0,931.1 989.4,931.1 989.8,931.0 990.6,930.7 991.4,930.0 992.2,928.9 993.4,926.8 995.0,923.0 995.8,920.7 996.2,917.5 996.6,911.4 997.0,902.9 997.8,880.5 1000.2,800.3 1001.0,780.9 1001.4,774.5 1001.8,770.9 1002.0,770.3 1002.2,771.0 1002.6,777.8 1003.8,812.1 1004.2,817.0 1004.6,813.2 1005.0,801.3 1006.6,722.6 1007.0,707.7 1007.4,699.8 1007.5,699.2 1007.8,701.0 1008.2,710.0 1008.6,725.4 1009.4,769.4 1011.0,869.7 1011.4,888.7 1011.8,902.4 1012.2,909.4 1012.3,909.9 1012.6,909.5 1013.0,907.4 1013.4,903.9 1014.2,893.8 1015.8,870.4 1016.2,865.8 1016.6,862.3 1017.0,860.4 1017.2,860.0 1017.4,860.1 1017.8,861.4 1018.2,864.1 1018.6,867.8 1019.4,877.6 1021.4,906.6 1022.2,915.7 1022.6,918.8 1023.0,920.7 1023.3,921.3 1023.4,921.3 1023.8,920.4 1024.2,918.4 1024.6,915.5 1025.4,907.3 1027.8,877.3 1028.2,873.3 1028.6,870.2 1029.0,868.0 1029.4,866.9 1029.5,866.8 1029.8,867.1 1030.2,868.7 1030.6,871.5 1031.4,879.7 1033.4,904.3 1033.8,908.0 1034.2,910.8 1034.6,912.5 1035.4,913.9 1036.2,915.0 1037.0,915.7 1038.2,916.1 1040.2,916.6 1041.0,917.0 1041.8,917.7 1043.0,919.5 1047.4,928.4 1048.6,930.3 1049.4,931.2 1049.8,931.6 1050.2,931.8 1058.3,931.9 1058.6,931.8 1059.0,931.5 1059.4,930.8 1060.2,929.0 1060.6,927.8 1061.0,924.0 1061.4,916.8 1062.2,894.7 1064.2,823.5 1064.6,811.5 1065.0,801.8 1065.4,794.9 1065.8,791.5 1065.9,791.3 1066.2,792.2 1066.6,796.7 1067.0,804.5 1067.8,827.3 1069.8,898.8 1070.2,910.7 1070.6,920.4 1071.0,927.3 1071.4,930.8 1071.5,931.1 1073.0,931.7 1074.4,931.9 1074.6,931.8 1075.0,930.8 1075.4,929.0 1076.2,923.4 1077.8,910.6 1078.2,908.2 1078.6,906.6 1079.0,906.0 1079.4,906.3 1079.8,907.3 1080.2,908.9 1081.0,913.2 1083.0,926.0 1083.4,928.0 1083.8,929.5 1084.2,930.4 1084.5,930.7 1084.6,930.7 1085.0,930.1 1085.4,928.8 1085.8,927.0 1086.6,921.9 1088.6,907.3 1089.0,905.0 1089.4,903.3 1089.8,902.3 1090.1,902.0 1090.2,902.0 1090.6,903.1 1091.0,905.3 1092.6,919.8 1093.0,922.9 1093.4,925.1 1093.8,926.0 1094.6,925.8 1095.8,925.3 1096.4,925.2 1096.6,925.2 1097.0,925.6 1097.4,926.2 1099.0,929.4 1099.4,930.0 1099.8,930.2 1100.2,930.0 1100.6,929.4 1102.2,925.6 1102.6,924.8 1103.0,924.4 1103.2,924.3 1103.8,924.5 1104.2,924.8 1105.0,925.8 1108.2,931.4 1109.0,932.4 1109.4,932.6 1109.9,932.8 1110.2,932.5 1110.6,931.4 1111.4,928.0 1111.8,926.7 1112.1,926.3 1112.2,926.3 1112.6,927.5 1113.4,931.8 1113.8,932.8 1114.2,928.5 1114.6,915.4 1115.0,895.0 1117.4,711.4 1117.8,685.9 1118.2,666.1 1118.6,653.9 1118.9,650.5 1119.0,650.7 1119.4,658.9 1119.8,677.4 1120.6,736.5 1122.2,879.1 1122.6,906.7 1123.0,926.5 1123.4,936.3 1123.5,937.0 1123.8,936.8 1124.2,936.0 1124.6,934.7 1126.2,927.8 1126.6,926.5 1127.0,925.7 1127.8,924.7 1129.4,923.1 1129.8,922.6 1130.2,921.8 1130.6,920.4 1131.0,917.8 1131.8,909.8 1133.4,890.4 1133.8,886.3 1134.2,883.0 1134.6,880.9 1135.0,880.0 1135.4,880.4 1135.8,881.6 1136.2,883.5 1137.0,888.7 1139.0,904.3 1141.4,918.1 1141.8,920.0 1142.2,921.4 1142.6,922.4 1142.9,922.6 1143.4,922.5 1143.8,922.2 1144.2,921.9 1145.0,920.7 1146.2,918.3 1147.2,915.8 1147.4,915.2 1147.8,913.1 1148.2,909.9 1150.6,882.7 1151.0,878.9 1151.4,875.8 1151.8,873.8 1152.2,873.0 1152.6,873.3 1153.0,874.4 1153.4,876.0 1154.2,880.9 1157.4,908.8 1158.2,914.6 1158.6,916.8 1159.0,918.6 1159.4,919.7 1159.8,920.1 1160.2,920.0 1160.6,919.6 1161.0,918.9 1161.8,916.9 1163.2,911.6 1163.4,910.5 1163.8,905.8 1164.2,898.4 1165.0,877.6 1167.0,815.7 1167.4,805.8 1167.8,798.1 1168.2,793.0 1168.6,791.0 1169.0,793.3 1169.4,800.1 1169.8,810.6 1172.2,899.9 1172.6,910.8 1173.0,918.1 1173.4,920.9 1173.8,920.7 1174.2,920.2 1175.8,916.9 1176.2,916.2 1176.6,915.9 1176.8,915.8 1177.0,915.8 1178.2,916.6 1178.5,916.7 1178.6,916.7 1179.0,915.6 1179.4,913.3 1180.6,904.4 1181.0,902.5 1181.3,902.0 1181.4,902.0 1181.8,902.8 1182.2,904.6 1184.2,918.9 1184.6,920.9 1185.0,922.1 1185.2,922.3 1185.4,921.7 1185.8,916.0 1186.2,905.3 1187.0,872.7 1189.0,772.8 1189.4,757.7 1189.8,746.5 1190.2,740.3 1190.4,739.3 1190.6,739.9 1191.0,744.8 1191.4,754.0 1192.2,781.8 1193.8,849.6 1194.2,863.8 1194.6,875.2 1195.0,882.8 1195.4,885.7 1195.8,881.5 1196.2,869.2 1196.6,850.7 1198.2,752.3 1198.6,731.0 1199.0,714.8 1199.4,705.5 1199.6,704.1 1199.8,705.1 1200.2,713.8 1200.6,729.8 1202.6,852.2 1203.0,871.7 1203.4,884.9 1203.8,890.1 1204.2,888.0 1204.6,881.6 1205.0,871.8 1205.8,844.0 1207.8,759.5 1208.6,733.7 1209.0,725.2 1209.4,720.5 1209.6,719.8 1209.8,720.1 1210.2,723.1 1210.6,728.9 1211.0,737.1 1211.8,759.4 1214.6,861.4 1215.4,885.6 1215.8,895.1 1216.2,902.3 1216.6,907.0 1217.0,908.7 1217.4,908.5 1217.8,907.9 1219.0,905.3 1219.4,904.5 1219.8,904.1 1220.0,904.0 1220.2,904.0 1220.6,904.3 1221.0,904.9 1222.0,907.0 1222.2,907.5 1222.6,909.3 1223.4,914.9 1224.6,924.3 1225.0,926.7 1225.4,928.4 1225.8,929.0 1226.2,928.7 1226.6,927.7 1228.2,921.3 1228.6,920.0 1229.0,919.3 1229.2,919.2 1229.8,919.4 1231.0,920.0 1231.4,920.0 1231.8,919.7 1233.0,917.6 1233.4,917.2 1233.5,917.2 1233.8,917.3 1234.2,917.9 1234.6,918.8 1235.4,921.5 1237.0,927.8 1237.4,929.1 1237.8,930.2 1238.2,930.8 1238.6,931.1 1241.0,931.7 1242.2,931.8 1242.6,931.4 1243.0,930.3 1243.4,928.6 1245.8,914.1 1246.2,912.4 1246.6,911.2 1247.0,910.8 1247.4,911.4 1247.8,913.1 1249.4,923.6 1249.8,925.4 1250.2,926.1 1250.6,925.2 1251.0,922.8 1251.4,919.2 1253.4,895.2 1253.8,891.7 1254.2,889.6 1254.5,889.0 1254.6,889.1 1255.0,890.6 1255.4,893.8 1257.4,918.8 1257.8,922.2 1258.2,923.8 1258.3,923.9 1258.6,923.8 1259.0,923.4 1259.4,922.7 1259.8,921.7 1260.6,918.8 1261.4,915.0 1263.0,905.0 1263.4,899.6 1263.8,888.9 1264.2,873.7 1265.0,832.6 1267.8,652.3 1268.6,613.9 1269.0,600.5 1269.4,591.8 1269.8,588.7 1270.2,593.7 1270.6,608.3 1271.0,630.6 1273.4,831.2 1273.8,859.8 1274.2,882.4 1274.6,897.4 1275.0,902.9 1275.4,902.2 1276.2,899.2 1276.6,898.5 1277.0,899.2 1277.8,902.1 1278.1,902.5 1278.2,902.4 1278.6,899.7 1279.0,894.1 1281.0,851.1 1281.4,845.3 1281.8,842.5 1281.9,842.4 1282.2,843.5 1282.6,848.2 1283.8,871.5 1284.2,878.2 1284.6,882.2 1284.8,882.8 1285.0,882.1 1285.4,876.5 1285.8,866.6 1287.4,809.7 1287.8,798.0 1288.2,789.9 1288.6,786.8 1289.0,789.6 1289.4,797.2 1291.0,843.9 1291.4,851.7 1291.8,854.7 1292.2,853.0 1292.6,848.2 1293.4,832.6 1294.6,805.4 1295.0,798.3 1295.4,793.4 1295.8,791.6 1296.2,793.1 1296.6,797.2 1297.0,803.4 1299.0,846.3 1299.4,853.4 1299.8,858.7 1300.2,861.6 1300.4,862.0 1300.6,861.6 1301.0,858.9 1301.4,854.2 1302.6,835.4 1303.0,830.2 1303.4,826.9 1303.7,826.0 1303.8,826.1 1304.2,827.7 1304.6,831.2 1306.6,858.6 1307.0,862.5 1307.4,864.7 1307.6,865.0 1307.8,864.8 1308.2,863.3 1308.6,860.6 1310.6,839.6 1311.0,835.9 1311.4,833.2 1311.8,831.7 1312.0,831.5 1312.2,831.8 1312.6,834.3 1313.0,838.7 1314.6,863.2 1315.0,868.0 1315.4,871.0 1315.7,871.8 1315.8,871.6 1316.2,867.8 1316.6,859.7 1317.4,834.0 1319.0,771.6 1319.4,759.3 1319.8,750.1 1320.2,745.0 1320.4,744.3 1320.6,746.4 1321.0,760.9 1321.8,806.8 1322.2,824.1 1322.5,828.9 1322.6,828.6 1323.0,821.9 1323.4,807.4 1324.2,762.6 1325.8,657.8 1326.2,638.7 1326.6,625.9 1327.0,621.2 1327.4,626.3 1327.8,640.2 1329.4,733.3 1329.8,753.5 1330.2,767.4 1330.6,772.7 1331.0,768.1 1331.4,756.6 1332.2,726.5 1332.6,715.0 1333.0,710.3 1333.4,712.4 1333.8,717.9 1335.4,750.5 1335.8,755.3 1336.1,756.5 1336.2,756.4 1336.6,753.9 1337.8,737.9 1338.2,734.1 1338.5,733.1 1338.6,733.2 1339.0,736.7 1339.4,744.3 1339.8,755.4 1340.6,785.5 1342.6,876.2 1343.4,905.1 1343.8,915.4 1344.2,922.0 1344.6,924.4 1345.4,924.3 1345.8,924.1 1346.2,923.7 1346.6,923.0 1347.0,921.9 1347.4,920.4 1347.8,918.5 1348.2,916.0" stroke-width="2.3"/>
<path d="M153.2,933.4 571.6,931.6 603.6,932.4 608.6,932.0 621.6,929.9 626.6,928.6 640.6,923.9 644.6,922.9 647.6,922.5 650.6,922.3 653.6,922.5 657.7,923.1 675.7,928.2 679.7,929.0 682.7,929.4 685.7,929.4 688.7,929.0 692.7,928.2 709.7,922.3 713.7,921.3 716.7,920.8 719.8,920.6 722.7,920.7 727.7,921.4 741.7,924.5 745.7,925.1 748.7,925.2 750.7,925.1 753.7,924.6 756.7,923.8 760.7,922.3 776.7,914.7 780.7,913.1 783.8,912.3 786.8,911.7 789.8,911.6 791.8,911.8 793.8,912.1 796.8,912.9 800.8,914.5 815.8,921.9 819.8,923.6 822.8,924.5 824.8,924.9 826.8,925.1 828.8,925.2 830.8,925.0 834.0,924.3 834.8,924.1 835.8,923.7 837.8,922.6 840.8,920.8 845.0,917.4 848.8,913.7 853.8,909.9 856.8,907.9 858.8,906.9 859.8,906.5 860.8,906.2 867.8,905.2 873.8,904.9 882.8,905.7 884.8,905.7 885.8,905.5 886.8,905.3 888.8,904.6 890.8,903.6 895.8,900.6 896.8,899.9 897.8,899.0 899.8,897.0 902.8,893.4 908.9,885.6 915.9,874.8 917.9,872.0 918.9,870.7 919.9,869.7 921.2,868.5 925.9,865.2 927.9,864.0 929.9,863.1 930.9,862.8 931.9,862.6 933.1,862.5 934.9,862.6 936.9,863.1 938.9,863.9 940.9,865.0 942.9,866.3 945.9,868.6 949.9,872.3 962.9,885.7 965.9,888.4 968.9,890.8 970.9,892.1 972.9,893.2 974.9,894.0 976.9,894.5 978.9,894.7 979.9,894.6 980.9,894.4 981.9,894.0 982.9,893.6 983.9,893.0 985.9,891.5 987.9,889.8 991.9,885.6 997.9,878.9 1000.9,876.0 1002.9,874.3 1003.9,873.6 1004.9,873.0 1005.9,872.5 1006.9,872.2 1007.9,871.9 1009.2,871.8 1009.9,871.8 1010.9,872.0 1011.9,872.3 1012.9,872.7 1013.9,873.2 1014.9,873.8 1016.9,875.3 1018.9,877.2 1020.9,879.3 1023.9,883.0 1036.0,899.6 1039.0,903.3 1041.0,905.6 1043.0,907.6 1045.0,909.2 1046.0,909.9 1047.0,910.5 1048.0,911.0 1049.0,911.4 1050.0,911.6 1052.0,911.8 1056.0,911.5 1065.0,910.3 1068.0,910.2 1070.0,910.3 1073.0,910.7 1082.0,912.8 1085.0,913.2 1087.0,913.3 1089.0,913.1 1091.0,912.7 1093.0,912.0 1095.0,911.0 1098.0,909.2 1113.0,897.9 1116.0,896.0 1118.0,894.9 1120.0,894.0 1122.0,893.4 1124.0,893.1 1126.0,893.0 1128.0,893.2 1131.0,893.8 1145.0,898.2 1148.0,898.9 1150.0,899.2 1152.2,899.3 1153.0,899.2 1154.0,899.1 1155.0,898.7 1156.0,898.3 1157.0,897.7 1158.0,897.0 1160.1,895.3 1162.1,893.2 1164.1,890.8 1167.1,886.6 1173.1,877.0 1181.1,863.6 1184.1,859.0 1187.1,854.8 1189.1,852.4 1191.1,850.4 1193.1,848.7 1194.1,848.0 1195.1,847.5 1196.1,847.0 1197.1,846.7 1198.1,846.5 1199.1,846.5 1200.1,846.7 1201.1,847.2 1202.1,847.9 1203.1,848.9 1204.1,850.0 1205.1,851.4 1206.1,852.9 1208.1,856.4 1210.1,860.5 1220.1,883.7 1222.1,888.0 1224.1,891.9 1226.1,895.2 1227.1,896.6 1228.1,897.9 1232.1,901.7 1234.1,903.4 1235.1,904.0 1236.1,904.5 1237.1,904.8 1238.1,904.8 1239.1,904.6 1240.1,904.1 1241.1,903.5 1242.1,902.7 1244.1,900.8 1246.2,898.5 1247.1,897.3 1248.1,895.5 1249.1,893.3 1250.1,890.8 1252.1,885.0 1256.1,872.5 1258.1,867.0 1259.1,864.6 1260.1,862.5 1264.1,855.5 1267.1,850.7 1269.1,847.9 1271.1,845.4 1273.1,843.2 1275.1,841.4 1277.1,839.9 1280.1,838.2 1288.2,834.5 1291.2,832.8 1293.2,831.4 1295.2,829.8 1298.2,826.9 1308.2,816.2 1311.2,813.3 1318.2,805.5 1320.2,803.5 1321.2,802.7 1322.2,801.9 1323.2,801.3 1324.2,800.8 1325.2,800.5 1326.3,800.4 1327.2,800.4 1328.2,800.6 1329.2,800.8 1330.2,801.2 1331.2,801.7 1332.2,802.3 1333.2,802.9 1334.2,803.7 1336.2,805.6 1338.2,808.0 1340.2,810.7 1342.2,813.9 1344.2,817.5 1346.2,821.5 1348.2,826.0" stroke-width="6.9"/>
</g>
<g stroke="#000" fill="none">
<rect x="153.25" y="524.6" width="1195.0" height="426.6" stroke-width="4.7"/>
<path d="M153.25,524.6v-11.2M153.25,951.2v11.2M272.75,524.6v-5.3M272.75,951.2v5.3M392.25,524.6v-11.2M392.25,951.2v11.2M511.75,524.6v-5.3M511.75,951.2v5.3M631.25,524.6v-11.2M631.25,951.2v11.2M750.75,524.6v-5.3M750.75,951.2v5.3M870.25,524.6v-11.2M870.25,951.2v11.2M989.75,524.6v-5.3M989.75,951.2v5.3M1109.25,524.6v-11.2M1109.25,951.2v11.2M1228.75,524.6v-5.3M1228.75,951.2v5.3M1348.25,524.6v-11.2M1348.25,951.2v11.2M153.25,933.40h-11.2M1348.25,933.40h11.2M153.25,888.92h-5.3M1348.25,888.92h5.3M153.25,844.45h-11.2M1348.25,844.45h11.2M153.25,799.98h-5.3M1348.25,799.98h5.3M153.25,755.50h-11.2M1348.25,755.50h11.2M153.25,711.02h-5.3M1348.25,711.02h5.3M153.25,666.55h-11.2M1348.25,666.55h11.2M153.25,622.08h-5.3M1348.25,622.08h5.3M153.25,577.60h-11.2M1348.25,577.60h11.2M153.25,533.12h-5.3M1348.25,533.12h5.3" stroke-width="4.6"/>
</g>
<text x="131.2" y="944.1" text-anchor="end">0</text>
<path transform="translate(94.06,855.15)" d="M12.4,0V-23.45H9.8C9.5,-21.5 8.6,-20.3 7.2,-19.8C6.2,-19.4 5,-19.15 3.5,-19.05V-16.65H9.1V0Z"/>
<text x="112.6" y="855.2">0</text>
<text x="131.2" y="766.2" text-anchor="end">20</text>
<text x="131.2" y="677.2" text-anchor="end">30</text>
<text x="131.2" y="588.3" text-anchor="end">40</text>
<text x="153.2" y="998.2" text-anchor="middle">0</text>
<path transform="translate(382.96,998.20)" d="M12.4,0V-23.45H9.8C9.5,-21.5 8.6,-20.3 7.2,-19.8C6.2,-19.4 5,-19.15 3.5,-19.05V-16.65H9.1V0Z"/>
<text x="631.2" y="998.2" text-anchor="middle">2</text>
<text x="870.2" y="998.2" text-anchor="middle">3</text>
<text x="1109.2" y="998.2" text-anchor="middle">4</text>
<text x="1348.2" y="998.2" text-anchor="middle">5</text>
<rect x="189.5" y="549.4" width="439.0" height="280.05000000000007" fill="#fff"/>
<g clip-path="url(#cib)" fill="none" stroke="#0000ff" stroke-linejoin="round">
<path d="M189.5,811.8 314.9,811.7 315.2,811.6 315.5,811.2 316.1,809.8 318.8,799.6 319.4,797.8 319.7,797.2 320.0,796.7 320.4,796.5 320.6,796.6 320.9,796.9 321.2,797.5 321.8,799.1 324.5,809.4 325.1,810.9 325.4,811.4 325.7,811.7 392.3,811.7 392.9,811.6 393.8,810.9 396.2,808.4 396.8,808.0 397.4,807.9 398.0,808.0 398.9,808.7 401.3,811.2 401.9,811.6 402.5,811.8 415.5,811.8 415.8,811.6 416.7,809.6 417.0,809.2 417.1,809.1 417.3,809.2 417.6,809.4 418.8,811.3 419.1,811.6 419.3,811.6 419.4,811.6 419.7,809.0 420.0,802.9 420.6,782.0 423.3,627.9 423.9,600.8 424.2,590.7 424.5,583.6 424.8,579.9 424.9,579.4 425.1,580.0 425.4,583.7 425.7,590.8 426.3,613.2 429.0,768.8 429.6,795.6 429.9,805.5 430.2,812.5 430.5,816.2 430.6,816.6 430.8,816.6 431.1,816.1 431.7,814.4 432.6,811.0 432.9,810.2 433.2,809.6 433.5,809.5 433.8,809.5 435.6,811.0 436.2,811.1 438.0,810.8 438.6,810.9 439.5,811.5 440.1,811.6 473.5,811.4 473.7,811.3 474.0,810.2 474.3,808.1 474.9,801.4 478.2,743.2 478.8,735.8 479.1,733.2 479.4,731.5 479.7,730.9 480.0,731.4 480.3,733.2 480.6,736.1 481.2,744.7 483.9,799.2 484.5,807.6 484.8,810.4 485.1,812.0 485.3,812.4 485.7,812.3 487.2,810.8 487.5,810.5 487.8,810.4 488.1,810.5 489.6,811.5 513.0,811.6 513.3,811.6 513.9,811.3 514.8,810.2 518.1,804.1 519.0,802.9 519.6,802.4 520.0,802.4 520.2,802.4 520.5,802.9 521.1,805.0 522.6,811.7 522.9,812.6 523.2,813.2 523.4,813.4 523.5,813.3 523.8,811.6 524.1,807.8 524.7,794.9 525.6,764.9 528.6,636.4 529.2,617.1 529.8,603.7 530.1,599.7 530.4,597.6 530.5,597.4 530.7,597.7 531.0,599.5 531.3,602.7 531.9,613.1 532.8,636.6 536.4,763.2 537.3,786.2 537.9,796.1 538.2,799.1 538.5,800.5 538.6,800.6 538.8,800.5 539.1,799.8 539.4,798.4 540.0,794.2 542.4,770.7 543.0,766.7 543.3,765.4 543.6,764.8 543.7,764.8 543.9,764.8 544.2,765.2 544.5,765.9 545.1,768.2 546.0,773.3 549.6,800.7 550.5,805.6 551.1,807.8 551.4,808.4 551.7,808.7 551.8,808.8 552.0,808.5 552.3,807.3 552.6,805.0 553.2,797.7 556.8,726.1 557.4,717.7 557.7,714.6 558.0,712.6 558.3,711.5 558.4,711.4 558.6,711.6 558.9,712.5 559.2,714.0 559.8,718.7 562.2,745.0 562.8,749.6 563.2,751.5 563.7,752.8 565.2,755.3 565.8,757.0 566.1,758.8 566.7,764.9 568.8,795.1 569.1,798.3 569.4,800.6 569.7,802.0 569.9,802.4 570.0,802.3 570.3,801.9 570.6,800.9 571.2,797.7 573.6,778.6 574.2,775.1 574.5,774.0 574.8,773.3 575.0,773.1 575.1,773.2 575.4,773.7 575.7,774.9 576.3,778.7 578.7,801.7 579.3,805.9 579.6,807.3 579.9,808.1 580.1,808.2 582.6,807.8 583.5,807.9 587.4,810.5 588.3,810.7 588.6,810.7 588.9,810.7 589.5,810.2 590.4,809.0 592.8,804.6 593.4,803.8 594.0,803.3 594.6,803.2 594.9,803.3 595.5,803.8 596.4,805.1 598.8,809.7 599.4,810.5 600.0,811.0 609.0,810.7 609.3,810.4 609.6,809.8 610.2,807.6 613.2,790.7 613.8,788.1 614.1,787.2 614.4,786.6 614.7,786.3 614.8,786.2 615.0,786.4 615.3,786.9 615.9,789.1 617.1,794.3 617.4,795.1 617.7,795.5 617.8,795.5 618.0,795.4 618.3,794.9 618.6,793.9 619.5,789.3 620.7,782.2 621.3,779.6 621.6,778.9 621.9,778.6 622.2,778.7 622.5,778.9 623.1,779.5 623.7,780.5 624.3,782.1 625.2,785.3 626.4,791.6 627.6,800.1 628.5,808.1" stroke-width="3.0"/>
</g>
<g stroke="#000" fill="none">
<rect x="189.5" y="549.4" width="439.0" height="280.05000000000007" stroke-width="4.7"/>
<path d="M189.50,829.45v11.4M262.67,829.45v5.6M335.83,829.45v11.4M409.00,829.45v5.6M482.17,829.45v11.4M555.33,829.45v5.6M628.50,829.45v11.4M628.5,811.60h11.4M628.5,724.35h11.4M628.5,637.10h11.4M628.5,549.85h11.4M628.5,767.98h5.6M628.5,680.73h5.6M628.5,593.48h5.6" stroke-width="3.7"/>
</g>
<text x="651.8" y="822.0">0</text>
<text x="651.8" y="734.8">0.5</text>
<path transform="translate(651.80,647.50)" d="M12.4,0V-23.45H9.8C9.5,-21.5 8.6,-20.3 7.2,-19.8C6.2,-19.4 5,-19.15 3.5,-19.05V-16.65H9.1V0Z"/>
<path transform="translate(651.80,560.25)" d="M12.4,0V-23.45H9.8C9.5,-21.5 8.6,-20.3 7.2,-19.8C6.2,-19.4 5,-19.15 3.5,-19.05V-16.65H9.1V0Z"/>
<text x="670.4" y="560.2">.5</text>
<text x="189.5" y="876.9" text-anchor="middle">0.5</text>
<path transform="translate(326.55,876.90)" d="M12.4,0V-23.45H9.8C9.5,-21.5 8.6,-20.3 7.2,-19.8C6.2,-19.4 5,-19.15 3.5,-19.05V-16.65H9.1V0Z"/>
<path transform="translate(458.95,876.90)" d="M12.4,0V-23.45H9.8C9.5,-21.5 8.6,-20.3 7.2,-19.8C6.2,-19.4 5,-19.15 3.5,-19.05V-16.65H9.1V0Z"/>
<text x="477.5" y="876.9">.5</text>
<text x="628.5" y="876.9" text-anchor="middle">2</text>
<path d="M741.8,58.3H791.1" stroke="#000" stroke-width="2.15" fill="none"/>
<path d="M741.8,113.1H791.1" stroke="#000" stroke-width="7.1" fill="none"/>
<text x="803.6" y="70.1"><tspan font-style="italic">I</tspan>–<tspan dx="-1.6">Au</tspan><tspan font-size="24.75" dy="8.8">72</tspan><tspan dy="-8.8"> [250 fs]</tspan></text>
<text x="803.6" y="124.9"><tspan font-style="italic">I</tspan>–<tspan dx="-1.6">Au</tspan><tspan font-size="24.75" dy="8.8">72</tspan><tspan dy="-8.8"> [25 fs]</tspan></text>
<path d="M741.8,578.8H791.1" stroke="#0000ff" stroke-width="2.3" fill="none"/>
<path d="M741.8,633.8H791.1" stroke="#0000ff" stroke-width="7.1" fill="none"/>
<text x="803.6" y="591.4"><tspan font-style="italic">I</tspan>–<tspan dx="-1.6">Au</tspan><tspan font-size="24.75" dy="8.8">60</tspan><tspan dy="-8.8"> [250 fs]</tspan></text>
<text x="803.6" y="645.9"><tspan font-style="italic">I</tspan>–<tspan dx="-1.6">Au</tspan><tspan font-size="24.75" dy="8.8">60</tspan><tspan dy="-8.8"> [25 fs]</tspan></text>
<text x="750.6" y="1045.4" text-anchor="middle">Photon energy [eV]</text>
<text transform="translate(64.1,455.2) rotate(-90)" text-anchor="middle">Abs. cross section [arb. units]</text>
<text x="0.3" y="22.7" font-size="42" font-weight="bold">a</text>
<text x="-2.8" y="544.2" font-size="42" font-weight="bold">b</text>
</svg>
</body></html>
